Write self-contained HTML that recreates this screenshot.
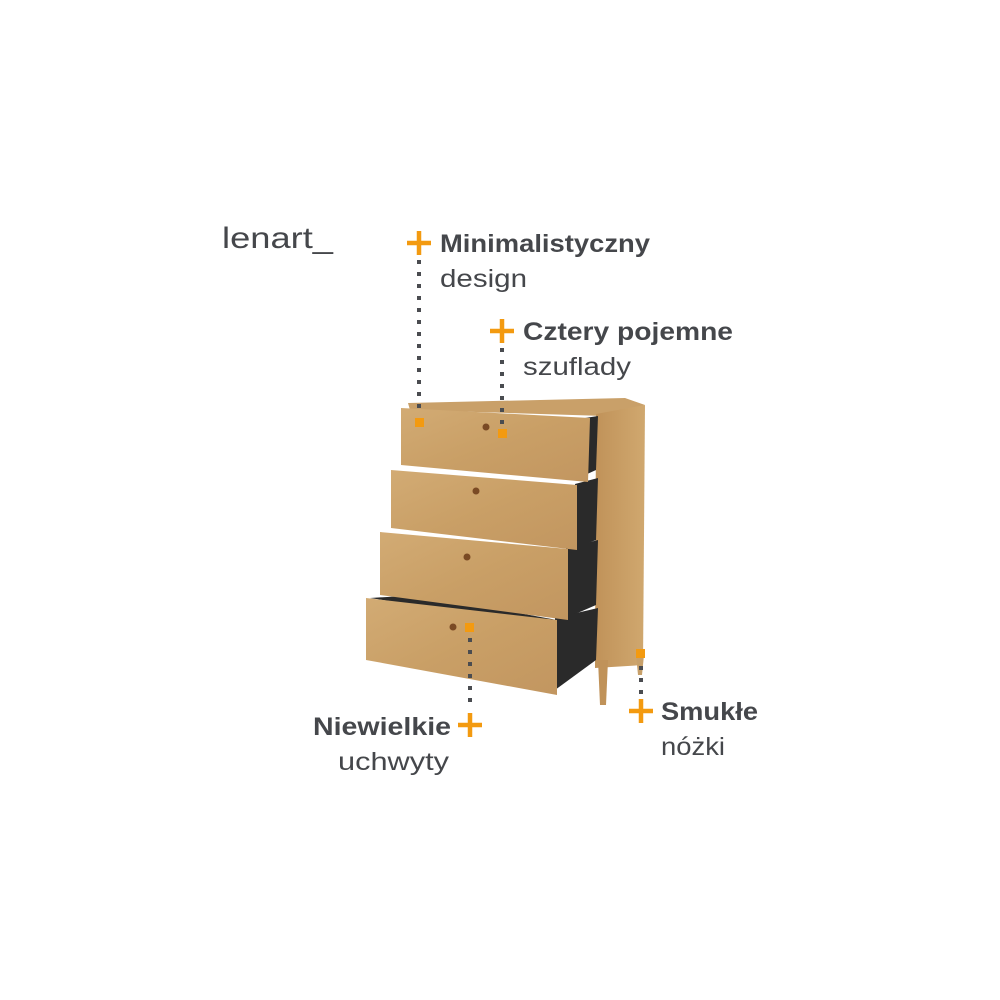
<!DOCTYPE html>
<html><head><meta charset="utf-8"><style>
html,body{margin:0;padding:0;background:#fff;width:1000px;height:1000px;overflow:hidden}
svg{display:block}
text{font-family:"Liberation Sans",sans-serif;fill:#45474b}
</style></head><body>
<svg width="1000" height="1000" viewBox="0 0 1000 1000" xmlns="http://www.w3.org/2000/svg">
<defs>
<linearGradient id="w" x1="0" y1="0" x2="1" y2="1">
<stop offset="0" stop-color="#d2ab74"/><stop offset="0.5" stop-color="#c99f66"/><stop offset="1" stop-color="#c29660"/>
</linearGradient>
<linearGradient id="s" x1="0" y1="0" x2="1" y2="0">
<stop offset="0" stop-color="#c09259"/><stop offset="1" stop-color="#d0a86f"/>
</linearGradient>
</defs>
<polygon points="408,403 625,398 645,405 605,416 410,410" fill="#c9a069"/>
<polygon points="596,414 645,405 643,665 595,668" fill="url(#s)"/>
<polygon points="598,660 608,660 606,705 600,705" fill="#c09259"/>
<polygon points="636,655 644,655 642,675 638,675" fill="#c7a06a"/>
<polygon points="585,418 598,416 596,470 585,475" fill="#2a2a2a"/>
<polygon points="575,484 598,478 596,540 575,548" fill="#2a2a2a"/>
<polygon points="566,548 598,540 596,605 566,618" fill="#2a2a2a"/>
<polygon points="555,618 598,608 596,660 555,690" fill="#2a2a2a"/>
<polygon points="370,598 420,595 557,620 460,612" fill="#2a2a2a"/>
<polygon points="401,408 590,418 588,482 401,465" fill="url(#w)"/>
<polygon points="391,470 577,485 577,550 391,528" fill="url(#w)"/>
<polygon points="380,532 568,549 568,620 380,595" fill="url(#w)"/>
<polygon points="366,598 557,620 557,695 366,660" fill="url(#w)"/>
<circle cx="486" cy="427" r="3.5" fill="#7a4a24"/>
<circle cx="476" cy="491" r="3.5" fill="#7a4a24"/>
<circle cx="467" cy="557" r="3.5" fill="#7a4a24"/>
<circle cx="453" cy="627" r="3.5" fill="#7a4a24"/>
<g stroke="#4a4c50" stroke-width="4" stroke-dasharray="4,8">
<line x1="419" y1="260" x2="419" y2="412"/>
<line x1="502" y1="348" x2="502" y2="425"/>
<line x1="470" y1="638" x2="470" y2="708"/>
<line x1="641" y1="666" x2="641" y2="700"/>
</g>
<g fill="#f39a10">
<rect x="415" y="418" width="9" height="9"/>
<rect x="498" y="429" width="9" height="9"/>
<rect x="465" y="623" width="9" height="9"/>
<rect x="636" y="649" width="9" height="9"/>
</g>
<g stroke="#f39a10" stroke-width="4.5">
<line x1="407" y1="243" x2="431" y2="243"/><line x1="419" y1="231" x2="419" y2="255"/>
<line x1="490" y1="331" x2="514" y2="331"/><line x1="502" y1="319" x2="502" y2="343"/>
<line x1="458" y1="725" x2="482" y2="725"/><line x1="470" y1="713" x2="470" y2="737"/>
<line x1="629" y1="711" x2="653" y2="711"/><line x1="641" y1="699" x2="641" y2="723"/>
</g>
<text x="222" y="248" font-size="30" fill="#55575b" textLength="111" lengthAdjust="spacingAndGlyphs">lenart_</text>
<text x="440" y="252" font-size="25" font-weight="bold" textLength="210" lengthAdjust="spacingAndGlyphs">Minimalistyczny</text>
<text x="440" y="287" font-size="25" textLength="87" lengthAdjust="spacingAndGlyphs">design</text>
<text x="523" y="340" font-size="25" font-weight="bold" textLength="210" lengthAdjust="spacingAndGlyphs">Cztery pojemne</text>
<text x="523" y="375" font-size="25" textLength="108" lengthAdjust="spacingAndGlyphs">szuflady</text>
<text x="661" y="720" font-size="25" font-weight="bold" textLength="97" lengthAdjust="spacingAndGlyphs">Smukłe</text>
<text x="661" y="755" font-size="25" textLength="64" lengthAdjust="spacingAndGlyphs">nóżki</text>
<text x="313" y="735" font-size="25" font-weight="bold" textLength="138" lengthAdjust="spacingAndGlyphs">Niewielkie</text>
<text x="338" y="770" font-size="25" textLength="111" lengthAdjust="spacingAndGlyphs">uchwyty</text>
</svg>
</body></html>
